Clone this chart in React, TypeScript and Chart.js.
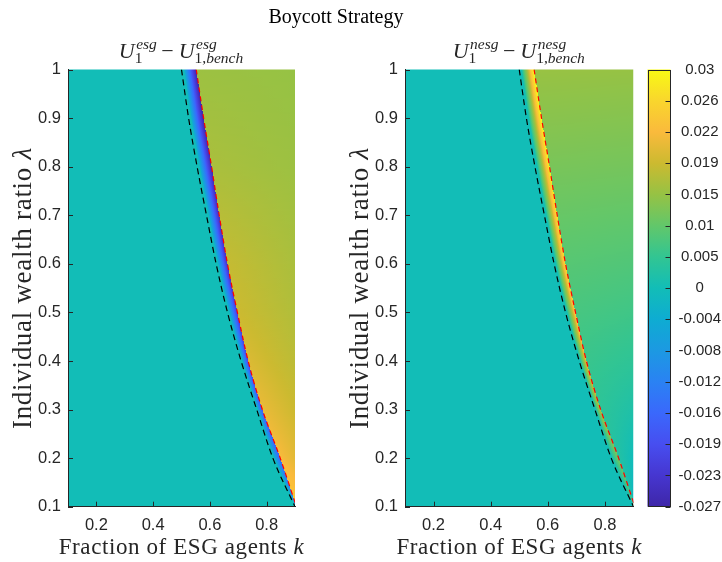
import { useEffect, useRef } from "react";
import { Chart, registerables } from "chart.js";

Chart.register(...registerables);

// ---- data ---------------------------------------------------------------

// wealth-ratio rows on which the utility surfaces are tabulated (top to bottom)
const lambdaRows = [1.0, 0.9, 0.8, 0.7, 0.6, 0.5, 0.4, 0.3, 0.2, 0.1];

// boycott threshold (black dashed) and switching frontier (red dashed): k on each row
const boycottK = [0.5, 0.525, 0.555, 0.588, 0.622, 0.662, 0.71, 0.765, 0.822, 0.9];
const frontierK = [0.552, 0.578, 0.606, 0.633, 0.662, 0.697, 0.735, 0.785, 0.848, 0.905];

// ESG agents: value at the frontier inside the band, just past the frontier, and at k = 0.9
const esgBandExtreme = [-0.027, -0.027, -0.026, -0.025, -0.024, -0.022, -0.021, -0.019, -0.017, -0.012];
const esgPastFrontier = [0.0155, 0.016, 0.0165, 0.0175, 0.0185, 0.019, 0.02, 0.021, 0.022, 0.024];
const esgRightEdge = [0.015, 0.0152, 0.0155, 0.016, 0.0165, 0.017, 0.0178, 0.019, 0.0205, 0.024];

// non-ESG agents: same three profiles
const nesgBandExtreme = [0.03, 0.03, 0.029, 0.028, 0.027, 0.025, 0.022, 0.018, 0.012, 0.006];
const nesgPastFrontier = [0.0152, 0.0138, 0.0122, 0.0105, 0.0088, 0.0072, 0.0057, 0.0042, 0.0027, 0.001];
const nesgRightEdge = [0.015, 0.0134, 0.0118, 0.01, 0.0082, 0.0064, 0.0044, 0.002, -0.0005, -0.002];

// share of the threshold-to-frontier gap that stays at zero before the band starts
const bandOnsetShare = 0.15;

const kTicks = [0.2, 0.4, 0.6, 0.8];
const kTickLabels = ["0.2", "0.4", "0.6", "0.8"];
const lambdaTicks = [0.1, 0.2, 0.3, 0.4, 0.5, 0.6, 0.7, 0.8, 0.9, 1.0];
const lambdaTickLabels = ["0.1", "0.2", "0.3", "0.4", "0.5", "0.6", "0.7", "0.8", "0.9", "1"];

// colour-bar ticks, bottom to top (evenly spaced on the bar)
const colorbarValues = [-0.027, -0.023, -0.019, -0.016, -0.012, -0.008, -0.004, 0, 0.005, 0.01, 0.015, 0.019, 0.022, 0.026, 0.03];
const colorbarLabels = ["-0.027", "-0.023", "-0.019", "-0.016", "-0.012", "-0.008", "-0.004", "0", "0.005", "0.01", "0.015", "0.019", "0.022", "0.026", "0.03"];

// ---- style --------------------------------------------------------------

// parula colours at each colour-bar tick position
const PARULA: [number, number, number][] = [
  [62, 38, 168],
  [70, 54, 208],
  [71, 78, 240],
  [58, 104, 252],
  [42, 130, 243],
  [28, 153, 226],
  [14, 172, 210],
  [18, 189, 183],
  [50, 197, 146],
  [98, 199, 106],
  [150, 194, 68],
  [204, 186, 48],
  [250, 186, 60],
  [249, 214, 45],
  [248, 250, 20],
];

const INK = "#262626";
const SERIF = '"Liberation Serif", "Times New Roman", serif';
const SANS = '"Liberation Sans", Arial, Helvetica, sans-serif';
const W = 722;
const H = 562;
const PLOT_TOP = 69.5;
const PLOT_BOTTOM = 506.7;
const Y_AXIS_W = 60;

// ---- helpers ------------------------------------------------------------

function barPosition(v: number): number {
  const n = colorbarValues.length;
  if (v <= colorbarValues[0]) return 0;
  if (v >= colorbarValues[n - 1]) return n - 1;
  for (let i = 0; i < n - 1; i++) {
    const a = colorbarValues[i];
    const b = colorbarValues[i + 1];
    if (v <= b) return i + (v - a) / (b - a);
  }
  return n - 1;
}

function rgb(c: number[]): string {
  return `rgb(${Math.round(c[0])},${Math.round(c[1])},${Math.round(c[2])})`;
}

function colourOf(v: number): string {
  const pos = barPosition(v);
  const i = Math.min(Math.floor(pos), PARULA.length - 2);
  const t = pos - i;
  const a = PARULA[i];
  const b = PARULA[i + 1];
  return rgb([a[0] + (b[0] - a[0]) * t, a[1] + (b[1] - a[1]) * t, a[2] + (b[2] - a[2]) * t]);
}

// linear lookup along the lambda rows
function rowLinear(values: number[], lam: number): number {
  const n = lambdaRows.length;
  if (lam >= lambdaRows[0]) return values[0];
  if (lam <= lambdaRows[n - 1]) return values[n - 1];
  for (let i = 0; i < n - 1; i++) {
    const a = lambdaRows[i];
    const b = lambdaRows[i + 1];
    if (lam <= a && lam >= b) return values[i] + ((values[i + 1] - values[i]) * (a - lam)) / (a - b);
  }
  return values[n - 1];
}

// smooth (Catmull-Rom) lookup for the curved boundaries
function rowSmooth(values: number[], lam: number): number {
  const n = lambdaRows.length;
  const step = lambdaRows[0] - lambdaRows[1];
  const u = Math.max(0, Math.min(n - 1, (lambdaRows[0] - lam) / step));
  const i = Math.min(Math.floor(u), n - 2);
  const t = u - i;
  const p = (j: number) =>
    j < 0 ? 2 * values[0] - values[1] : j > n - 1 ? 2 * values[n - 1] - values[n - 2] : values[j];
  const p0 = p(i - 1), p1 = p(i), p2 = p(i + 1), p3 = p(i + 2);
  return 0.5 * (2 * p1 + (-p0 + p2) * t + (2 * p0 - 5 * p1 + 4 * p2 - p3) * t * t + (-p0 + 3 * p1 - 3 * p2 + p3) * t * t * t);
}

type Run = [string, boolean];

function drawRuns(ctx: CanvasRenderingContext2D, runs: Run[], cx: number, baseline: number, size: number, spacing: number) {
  (ctx as any).letterSpacing = `${spacing}px`;
  const widths = runs.map(([text, italic]) => {
    ctx.font = `${italic ? "italic " : ""}${size}px ${SERIF}`;
    return ctx.measureText(text).width;
  });
  let x = cx - widths.reduce((s, w) => s + w, 0) / 2;
  ctx.textAlign = "left";
  ctx.textBaseline = "alphabetic";
  runs.forEach(([text, italic], i) => {
    ctx.font = `${italic ? "italic " : ""}${size}px ${SERIF}`;
    ctx.fillText(text, x, baseline);
    x += widths[i];
  });
  (ctx as any).letterSpacing = "0px";
}

// U_1^{sup} - U_{1,bench}^{sup}
function drawMathTitle(ctx: CanvasRenderingContext2D, cx: number, baseline: number, sup: string) {
  const big = 22;
  const small = 15.5;
  const f = (size: number, italic: boolean) => `${italic ? "italic " : ""}${size}px ${SERIF}`;
  const measure = (text: string, size: number, italic: boolean) => {
    ctx.font = f(size, italic);
    return ctx.measureText(text).width;
  };
  type Piece = { w: number; draw: (x: number) => void };
  const plain = (text: string, size: number, italic: boolean, dy = 0): Piece => ({
    w: measure(text, size, italic),
    draw: (x) => {
      ctx.font = f(size, italic);
      ctx.fillText(text, x, baseline + dy);
    },
  });
  const script = (upper: Run[], lower: Run[]): Piece => {
    const wu = upper.reduce((s, [t, it]) => s + measure(t, small, it), 0);
    const wl = lower.reduce((s, [t, it]) => s + measure(t, small, it), 0);
    return {
      w: Math.max(wu, wl) + 1,
      draw: (x) => {
        let xu = x + 1.5;
        upper.forEach(([t, it]) => {
          ctx.font = f(small, it);
          ctx.fillText(t, xu, baseline - 9);
          xu += measure(t, small, it);
        });
        let xl = x;
        lower.forEach(([t, it]) => {
          ctx.font = f(small, it);
          ctx.fillText(t, xl, baseline + 5);
          xl += measure(t, small, it);
        });
      },
    };
  };
  const gap = (w: number): Piece => ({ w, draw: () => undefined });
  const pieces: Piece[] = [
    plain("U", big, true),
    script([[sup, true]], [["1", false]]),
    gap(5),
    plain("\u2212", big, false),
    gap(5),
    plain("U", big, true),
    script([[sup, true]], [["1,", false], ["bench", true]]),
  ];
  ctx.textAlign = "left";
  ctx.textBaseline = "alphabetic";
  let x = cx - pieces.reduce((s, p) => s + p.w, 0) / 2;
  pieces.forEach((p) => {
    p.draw(x);
    x += p.w;
  });
}

// ---- plugins ------------------------------------------------------------

type Field = { band: number[]; past: number[]; edge: number[] };

function fieldPlugin(field: Field) {
  return {
    id: "utilityField",
    beforeDatasetsDraw(chart: Chart) {
      const { ctx, chartArea: a } = chart;
      const xs = chart.scales.x;
      const ys = chart.scales.y;
      const w = a.right - a.left;
      const kMax = xs.max;
      ctx.save();
      ctx.beginPath();
      ctx.rect(a.left, a.top, w, a.bottom - a.top);
      ctx.clip();
      for (let py = Math.floor(a.top); py < a.bottom; py++) {
        const lam = ys.getValueForPixel(py + 0.5) as number;
        const kb = rowSmooth(boycottK, lam);
        const kr = rowSmooth(frontierK, lam);
        const ext = rowLinear(field.band, lam);
        const past = rowLinear(field.past, lam);
        const edge = rowLinear(field.edge, lam);
        const g = ctx.createLinearGradient(a.left, 0, a.right, 0);
        let last = 0;
        const add = (k: number, v: number) => {
          const o = Math.max(last, Math.min(1, Math.max(0, (xs.getPixelForValue(k) - a.left) / w)));
          last = o;
          g.addColorStop(o, colourOf(v));
        };
        add(xs.min, 0);
        const kOn = kb + bandOnsetShare * (kr - kb);
        add(kOn, 0);
        const N = 10;
        for (let s = 1; s <= N; s++) add(kOn + ((kr - kOn) * s) / N, ext * Math.pow(s / N, 0.75));
        if (kr < kMax) {
          for (let s = 0; s <= N; s++) add(kr + ((kMax - kr) * s) / N, past + ((edge - past) * s) / N);
        }
        ctx.fillStyle = g;
        ctx.fillRect(a.left, py, w, 1);
      }
      ctx.restore();
    },
  };
}

const inwardTicksPlugin = {
  id: "inwardTicks",
  afterDatasetsDraw(chart: Chart) {
    const { ctx, chartArea: a } = chart;
    const xs = chart.scales.x;
    const ys = chart.scales.y;
    ctx.save();
    ctx.strokeStyle = INK;
    ctx.lineWidth = 1;
    ctx.beginPath();
    xs.ticks.forEach((t) => {
      const px = Math.round(xs.getPixelForValue(t.value)) + 0.5;
      ctx.moveTo(px, a.bottom);
      ctx.lineTo(px, a.bottom - 5);
    });
    ys.ticks.forEach((t) => {
      const py = Math.round(ys.getPixelForValue(t.value)) + 0.5;
      ctx.moveTo(a.left, py);
      ctx.lineTo(a.left + 5, py);
    });
    ctx.stroke();
    ctx.restore();
  },
};

function panelTextPlugin(sup: string, figureTitle: string | null) {
  return {
    id: "panelText",
    afterDraw(chart: Chart) {
      const { ctx, chartArea: a } = chart;
      const cx = (a.left + a.right) / 2;
      ctx.save();
      ctx.fillStyle = INK;
      drawMathTitle(ctx, cx, a.top - 12, sup);
      drawRuns(ctx, [["Fraction of ESG agents ", false], ["k", true]], cx, a.bottom + 47, 23, 0.6);
      ctx.save();
      ctx.translate(a.left - 37, (a.top + a.bottom) / 2);
      ctx.rotate(-Math.PI / 2);
      drawRuns(ctx, [["Individual wealth ratio ", false], ["\u03bb", true]], 0, 0, 27, 0.7);
      ctx.restore();
      if (figureTitle) {
        ctx.fillStyle = "#000";
        drawRuns(ctx, [[figureTitle, false]], 336, 23, 20, 0);
      }
      ctx.restore();
    },
  };
}

const colorbarPlugin = {
  id: "colorbarRamp",
  beforeDatasetsDraw(chart: Chart) {
    const { ctx, chartArea: a } = chart;
    const ys = chart.scales.y;
    const y0 = ys.getPixelForValue(0);
    const y1 = ys.getPixelForValue(PARULA.length - 1);
    const g = ctx.createLinearGradient(0, y0, 0, y1);
    PARULA.forEach((c, i) => g.addColorStop(i / (PARULA.length - 1), rgb(c)));
    ctx.save();
    ctx.fillStyle = g;
    ctx.fillRect(a.left, a.top, a.right - a.left, a.bottom - a.top);
    ctx.restore();
  },
  afterDatasetsDraw(chart: Chart) {
    const { ctx, chartArea: a } = chart;
    const ys = chart.scales.y;
    ctx.save();
    ctx.strokeStyle = INK;
    ctx.lineWidth = 1;
    ctx.strokeRect(Math.round(a.left) + 0.5, Math.round(a.top) + 0.5, Math.round(a.right - a.left) - 1, Math.round(a.bottom - a.top) - 1);
    ctx.beginPath();
    ys.ticks.forEach((t) => {
      const py = Math.round(ys.getPixelForValue(t.value)) + 0.5;
      ctx.moveTo(a.right, py);
      ctx.lineTo(a.right - 5, py);
    });
    ctx.stroke();
    ctx.restore();
  },
};

// ---- chart configs ------------------------------------------------------

function curve(ks: number[]) {
  return ks.map((k, i) => ({ x: k, y: lambdaRows[i] }));
}

function panelConfig(left: number, right: number, field: Field, sup: string, figureTitle: string | null): any {
  return {
    type: "scatter",
    data: {
      datasets: [
        {
          data: curve(boycottK),
          showLine: true,
          borderColor: "#000000",
          borderWidth: 1.2,
          borderDash: [6, 4],
          pointRadius: 0,
          cubicInterpolationMode: "monotone",
          clip: 0,
        },
        {
          data: curve(frontierK),
          showLine: true,
          borderColor: "#ff0000",
          borderWidth: 1.2,
          borderDash: [5, 4],
          pointRadius: 0,
          cubicInterpolationMode: "monotone",
          clip: 0,
        },
      ],
    },
    options: {
      animation: false,
      responsive: false,
      events: [],
      layout: { padding: { left: left - Y_AXIS_W, right: W - right, top: PLOT_TOP, bottom: 0 } },
      plugins: { legend: { display: false }, tooltip: { enabled: false } },
      scales: {
        x: {
          type: "linear",
          min: 0.1,
          max: 0.9,
          afterBuildTicks: (s: any) => {
            s.ticks = kTicks.map((v) => ({ value: v }));
          },
          afterFit: (s: any) => {
            s.height = H - PLOT_BOTTOM;
          },
          grid: { display: false, drawTicks: false },
          border: { display: true, color: INK, width: 1, z: 1 },
          ticks: {
            callback: (_v: any, i: number) => kTickLabels[i],
            color: INK,
            font: { family: SANS, size: 16.5 },
            padding: 9,
            maxRotation: 0,
            autoSkip: false,
          },
        },
        y: {
          type: "linear",
          min: 0.1,
          max: 1,
          afterBuildTicks: (s: any) => {
            s.ticks = lambdaTicks.map((v) => ({ value: v }));
          },
          afterFit: (s: any) => {
            s.width = Y_AXIS_W;
          },
          grid: { display: false, drawTicks: false },
          border: { display: true, color: INK, width: 1, z: 1 },
          ticks: {
            callback: (_v: any, i: number) => lambdaTickLabels[i],
            color: INK,
            font: { family: SANS, size: 16.5 },
            padding: 7,
            autoSkip: false,
          },
        },
      },
    },
    plugins: [fieldPlugin(field), inwardTicksPlugin, panelTextPlugin(sup, figureTitle)],
  };
}

function colorbarConfig(left: number, right: number): any {
  return {
    type: "scatter",
    data: { datasets: [] },
    options: {
      animation: false,
      responsive: false,
      events: [],
      layout: { padding: { left, right: 0, top: PLOT_TOP, bottom: H - PLOT_BOTTOM } },
      plugins: { legend: { display: false }, tooltip: { enabled: false } },
      scales: {
        x: { type: "linear", display: false, min: 0, max: 1 },
        y: {
          type: "linear",
          position: "right",
          min: 0,
          max: colorbarLabels.length - 1,
          afterBuildTicks: (s: any) => {
            s.ticks = colorbarLabels.map((_l, i) => ({ value: i }));
          },
          afterFit: (s: any) => {
            s.width = W - right;
          },
          grid: { display: false, drawTicks: false },
          border: { display: false },
          ticks: {
            callback: (_v: any, i: number) => colorbarLabels[i],
            color: INK,
            font: { family: SANS, size: 15 },
            padding: 8,
            crossAlign: "center",
            autoSkip: false,
          },
        },
      },
    },
    plugins: [colorbarPlugin],
  };
}

export default function App() {
  const leftRef = useRef<HTMLCanvasElement>(null);
  const rightRef = useRef<HTMLCanvasElement>(null);
  const barRef = useRef<HTMLCanvasElement>(null);

  useEffect(() => {
    const charts = [
      new Chart(
        leftRef.current!,
        panelConfig(68, 295, { band: esgBandExtreme, past: esgPastFrontier, edge: esgRightEdge }, "esg", "Boycott Strategy")
      ),
      new Chart(
        rightRef.current!,
        panelConfig(405, 633.5, { band: nesgBandExtreme, past: nesgPastFrontier, edge: nesgRightEdge }, "nesg", null)
      ),
      new Chart(barRef.current!, colorbarConfig(647.5, 670.5)),
    ];
    return () => charts.forEach((c) => c.destroy());
  }, []);

  const canvasStyle = { position: "absolute" as const, left: 0, top: 0, width: W, height: H };
  return (
    <div style={{ position: "fixed", left: 0, top: 0, width: W, height: H, background: "#ffffff" }}>
      <canvas ref={leftRef} width={W} height={H} style={canvasStyle} />
      <canvas ref={rightRef} width={W} height={H} style={canvasStyle} />
      <canvas ref={barRef} width={W} height={H} style={canvasStyle} />
    </div>
  );
}
